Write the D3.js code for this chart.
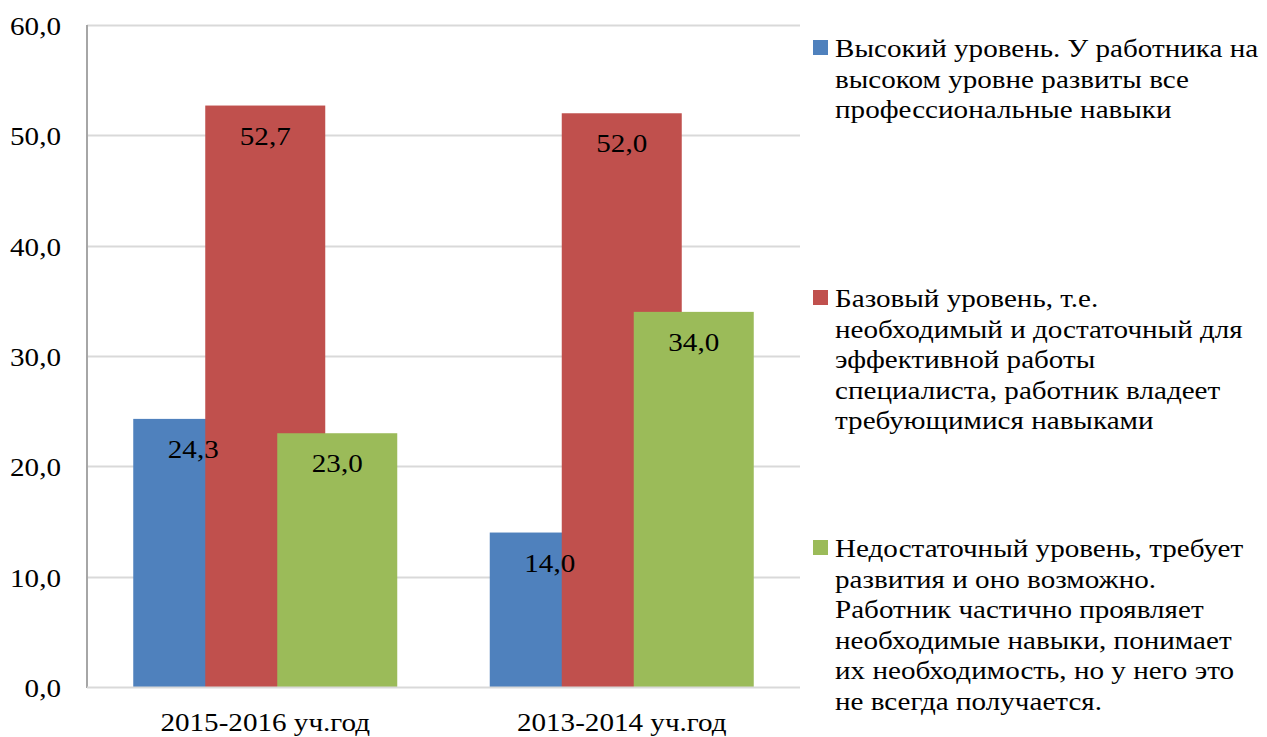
<!DOCTYPE html>
<html>
<head>
<meta charset="utf-8">
<script src="https://cdn.jsdelivr.net/npm/d3@7"></script>
<style>
  body { margin: 0; background: #fff; }
  svg text { font-family: "Liberation Serif", "Times New Roman", serif !important; fill: #000; }
</style>
</head>
<body>
<div id="chart"></div>
<script>
// categories and series
const categories = ['2015-2016 уч.год', '2013-2014 уч.год'];
const seriesNames = ['high', 'base', 'low'];
const highValues = [24.3, 14.0];
const baseValues = [52.7, 52.0];
const lowValues = [23.0, 34.0];
const yTicks = [0, 10, 20, 30, 40, 50, 60];
const legendLines = [
    ['Высокий уровень. У работника на', 'высоком уровне развиты все', 'профессиональные навыки'],
    ['Базовый уровень, т.е.', 'необходимый и достаточный для', 'эффективной работы', 'специалиста, работник владеет', 'требующимися навыками'],
    ['Недостаточный уровень, требует', 'развития и оно возможно.', 'Работник частично проявляет', 'необходимые навыки, понимает', 'их необходимость, но у него это', 'не всегда получается.']
];
const colors = ['#4F81BD', '#C0504D', '#9BBB59'];

const width = 1267, height = 737;
const margin = { top: 25, right: 467, bottom: 50, left: 87 };
const fontSize = 26;
const stretch = 1.12; // text in the original is a bit wider than tall

const svg = d3.select('#chart').append('svg')
    .attr('width', width)
    .attr('height', height);

// place a text at (x,y) with the horizontal stretch
const place = (sel, fx, fy) => sel
    .attr('x', 0).attr('y', 0)
    .attr('font-size', fontSize)
    .attr('font-family', '"Liberation Serif", serif')
    .attr('transform', (d, i) => `translate(${fx(d, i)},${fy(d, i)}) scale(${stretch},1)`);

const x = d3.scaleBand()
    .domain(categories)
    .range([margin.left, width - margin.right]);

const y = d3.scaleLinear()
    .domain([0, 60])
    .range([height - margin.bottom, margin.top]);

const fmt = v => d3.format('.1f')(v).replace('.', ',');

// gridlines
svg.append('g')
    .selectAll('line')
    .data(yTicks.filter(d => d > 0))
    .join('line')
    .attr('x1', margin.left)
    .attr('x2', width - margin.right)
    .attr('y1', d => Math.round(y(d)) + 0.5)
    .attr('y2', d => Math.round(y(d)) + 0.5)
    .attr('stroke', '#D9D9D9')
    .attr('stroke-width', 2);

// y tick labels
svg.append('g')
    .selectAll('text')
    .data(yTicks)
    .join('text')
    .attr('text-anchor', 'end')
    .call(place, () => 61, d => y(d) + 10)
    .text(fmt);

// bars
const series = [highValues, baseValues, lowValues];
const barW = 120, step = 72;
const groupW = barW + step * (series.length - 1);
const barX = (ci, si) => x(categories[ci]) + (x.bandwidth() - groupW) / 2 + si * step;

series.forEach((vals, si) => {
    svg.append('g')
        .attr('class', 'series-' + seriesNames[si])
        .selectAll('rect')
        .data(vals)
        .join('rect')
        .attr('x', (d, i) => barX(i, si))
        .attr('y', d => y(d))
        .attr('width', barW)
        .attr('height', d => y(0) - y(d))
        .attr('fill', colors[si]);
});

// axis lines
svg.append('line')
    .attr('x1', margin.left).attr('x2', margin.left)
    .attr('y1', y(60)).attr('y2', y(0) + 1)
    .attr('stroke', '#A6A6A6').attr('stroke-width', 2);
svg.append('line')
    .attr('x1', margin.left).attr('x2', width - margin.right)
    .attr('y1', y(0) + 0.5).attr('y2', y(0) + 0.5)
    .attr('stroke', '#D9D9D9').attr('stroke-width', 2);

// data labels
series.forEach((vals, si) => {
    svg.append('g')
        .selectAll('text')
        .data(vals)
        .join('text')
        .attr('text-anchor', 'middle')
        .call(place, (d, i) => barX(i, si) + barW / 2, d => y(d) + 39)
        .text(fmt);
});

// category labels
svg.append('g')
    .selectAll('text')
    .data(categories)
    .join('text')
    .attr('text-anchor', 'middle')
    .call(place, d => x(d) + x.bandwidth() / 2, () => 731)
    .text(d => d);

// legend
const legend = svg.append('g').attr('transform', 'translate(813,0)');
const legendTop = [57, 307, 557];
const lineH = 30.5;
legendLines.forEach((lines, i) => {
    legend.append('rect')
        .attr('x', 0)
        .attr('y', legendTop[i] - 17)
        .attr('width', 15)
        .attr('height', 15)
        .attr('fill', colors[i]);
    legend.append('g')
        .selectAll('text')
        .data(lines)
        .join('text')
        .call(place, () => 22, (d, j) => legendTop[i] + j * lineH)
        .text(d => d);
});
</script>
</body>
</html>
